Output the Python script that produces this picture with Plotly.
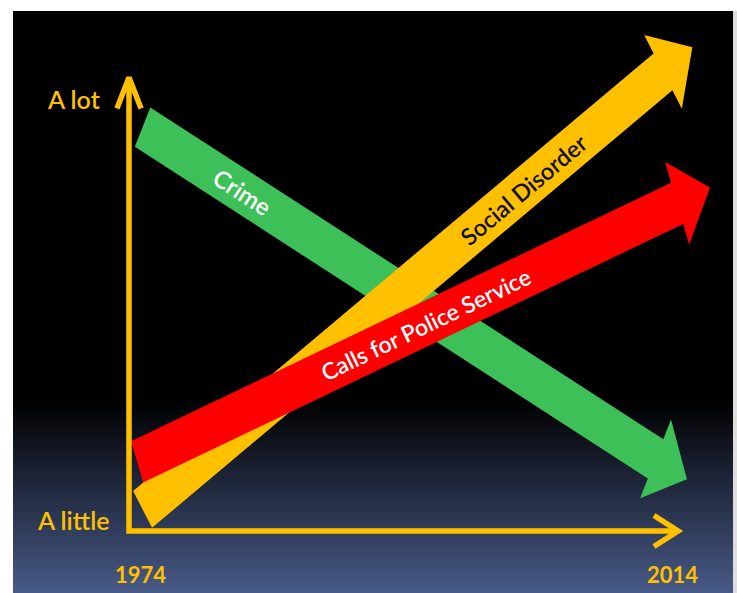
import numpy as np
import plotly.graph_objects as go

# ---------------------------------------------------------------- data
series_names = ["Crime", "Social Disorder", "Calls for Police Service"]
start_year = [1975.0, 1975.0, 1974.6]
end_year = [2015.1, 2015.5, 2016.8]
start_level = [9.35, 0.5, 1.6]
end_level = [1.2, 11.2, 7.95]

year_ticks = [1974, 2014]
year_labels = ["1974", "2014"]
level_ticks = [0, 10]
level_labels = ["A little", "A lot"]
axis_end_year = 2014.45
axis_top_level = 10.5

# ---------------------------------------------------------------- styles
series_colors = ["#3DC058", "#FFC000", "#FF0000"]
label_colors = ["#FFFFFF", "#111111", "#FFFFFF"]
label_sizes = [24, 23.5, 23]
label_frac = [0.183, 0.692, 0.504]      # where each name sits along its arrow
AXIS_COLOR = "#FFC000"
FONT = "Lato, 'Open Sans', sans-serif"

W, H = 737, 593
X_RANGE = [1964.4972, 2018.7882]
Y_RANGE = [-1.4352, 12.2917]
STRETCH = 0.78          # horizontal squeeze of the slide artwork
SHAFT_W, HEAD_W, HEAD_L = 44.0, 88.0, 45.0
CHEV_ALONG, CHEV_ACROSS = 31.0, 15.5


def to_px(x, y):
    px = (x - X_RANGE[0]) / (X_RANGE[1] - X_RANGE[0]) * W
    py = (Y_RANGE[1] - y) / (Y_RANGE[1] - Y_RANGE[0]) * H
    return np.array([px, py])


def from_px(p):
    x = X_RANGE[0] + p[0] / W * (X_RANGE[1] - X_RANGE[0])
    y = Y_RANGE[1] - p[1] / H * (Y_RANGE[1] - Y_RANGE[0])
    return x, y


def squeeze(p):
    return np.array([p[0] / STRETCH, p[1]])


def unsqueeze(u):
    return np.array([u[0] * STRETCH, u[1]])


def arrow_polygon(x0, y0, x1, y1):
    u0 = squeeze(to_px(x0, y0))
    u1 = squeeze(to_px(x1, y1))
    d = (u1 - u0) / np.linalg.norm(u1 - u0)
    n = np.array([d[1], -d[0]])
    b = u1 - d * HEAD_L
    pts = [u0 + n * SHAFT_W / 2, b + n * SHAFT_W / 2, b + n * HEAD_W / 2, u1,
           b - n * HEAD_W / 2, b - n * SHAFT_W / 2, u0 - n * SHAFT_W / 2,
           u0 + n * SHAFT_W / 2]
    xs, ys = zip(*[from_px(unsqueeze(p)) for p in pts])
    return list(xs), list(ys)


def chevron(tip_x, tip_y, direction):
    t = squeeze(to_px(tip_x, tip_y))
    d = np.array(direction, dtype=float)
    n = np.array([d[1], -d[0]])
    a = t - d * CHEV_ALONG + n * CHEV_ACROSS
    c = t - d * CHEV_ALONG - n * CHEV_ACROSS
    xs, ys = zip(*[from_px(unsqueeze(p)) for p in (a, t, c)])
    return list(xs), list(ys)


fig = go.Figure()

# arrows, green first so yellow then red sit on top
for i, name in enumerate(series_names):
    xs, ys = arrow_polygon(start_year[i], start_level[i], end_year[i], end_level[i])
    fig.add_trace(go.Scatter(x=xs, y=ys, mode="lines", fill="toself",
                             fillcolor=series_colors[i],
                             line=dict(width=0, color=series_colors[i]),
                             hoverinfo="skip", name=name))

# axes drawn as arrows
fig.add_trace(go.Scatter(
    x=[year_ticks[0], year_ticks[0], axis_end_year],
    y=[axis_top_level, level_ticks[0], level_ticks[0]],
    mode="lines", line=dict(color=AXIS_COLOR, width=5.5), hoverinfo="skip"))
for tip, dirn in (((year_ticks[0], axis_top_level), (0, -1)),
                  ((axis_end_year, level_ticks[0]), (1, 0))):
    cx, cy = chevron(tip[0], tip[1], dirn)
    fig.add_trace(go.Scatter(x=cx, y=cy, mode="lines",
                             line=dict(color=AXIS_COLOR, width=5.5),
                             hoverinfo="skip"))

annotations = []
# series names laid along the arrows
for i, name in enumerate(series_names):
    p0 = to_px(start_year[i], start_level[i])
    p1 = to_px(end_year[i], end_level[i])
    ang = float(np.degrees(np.arctan2(p1[1] - p0[1], p1[0] - p0[0])))
    t = label_frac[i]
    annotations.append(dict(
        x=start_year[i] + t * (end_year[i] - start_year[i]),
        y=start_level[i] + t * (end_level[i] - start_level[i]),
        text=name, showarrow=False, textangle=ang,
        font=dict(family=FONT, size=label_sizes[i], color=label_colors[i], weight=600)))

# axis labels
annotations.append(dict(x=year_ticks[0], y=level_ticks[1], text=level_labels[1],
                        showarrow=False, xshift=-56,
                        font=dict(family=FONT, size=25, color=AXIS_COLOR, weight=600)))
annotations.append(dict(x=year_ticks[0], y=level_ticks[0], text=level_labels[0],
                        showarrow=False, xshift=-56, yshift=11,
                        font=dict(family=FONT, size=25, color=AXIS_COLOR, weight=600)))
annotations.append(dict(x=year_ticks[0], y=level_ticks[0], text=year_labels[0],
                        showarrow=False, xshift=11, yshift=-43,
                        font=dict(family=FONT, size=22, color=AXIS_COLOR, weight="bold")))
annotations.append(dict(x=year_ticks[1], y=level_ticks[0], text=year_labels[1],
                        showarrow=False, yshift=-43,
                        font=dict(family=FONT, size=22, color=AXIS_COLOR, weight="bold")))

# slide background: black fading into slate blue near the bottom
shapes = []
PX_L, PX_R, PX_T, PX_FADE, PX_B = 13, 733, 11, 400, 593


def prect(x0, x1, y0, y1, color):
    return dict(type="rect", xref="paper", yref="paper", layer="below",
                x0=x0 / W, x1=x1 / W, y0=1 - y1 / H, y1=1 - y0 / H,
                fillcolor=color, line=dict(width=0))


shapes.append(prect(PX_R, W, PX_T, PX_B, "#DEDEDE"))
shapes.append(prect(PX_L, PX_R, PX_T, PX_B, "#000000"))
# each band runs to the bottom edge so no seams show between bands
n_steps = 64
top_rgb = np.array([0, 0, 0])
bot_rgb = np.array([72, 90, 135])
edges = np.linspace(PX_FADE, PX_B, n_steps + 1)
for k in range(n_steps):
    f = (k + 0.5) / n_steps
    c = (top_rgb + (bot_rgb - top_rgb) * f).round().astype(int)
    shapes.append(prect(PX_L, PX_R, edges[k], PX_B,
                        "rgb(%d,%d,%d)" % tuple(c)))

fig.update_layout(
    width=W, height=H, autosize=False,
    margin=dict(l=0, r=0, t=0, b=0, pad=0),
    paper_bgcolor="#FFFFFF", plot_bgcolor="rgba(0,0,0,0)",
    showlegend=False,
    xaxis=dict(range=X_RANGE, visible=False, fixedrange=True),
    yaxis=dict(range=Y_RANGE, visible=False, fixedrange=True),
    shapes=shapes, annotations=annotations,
)

fig.write_html("out.html")
